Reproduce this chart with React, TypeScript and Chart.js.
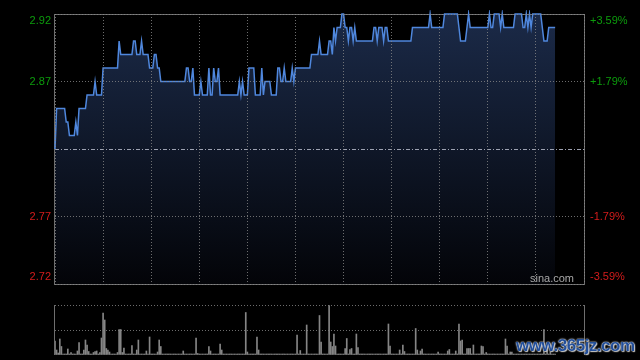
import React, { useEffect, useRef } from 'react';
import { Chart, registerables } from 'chart.js';

Chart.register(...registerables);

// ---- data ----
const basePrice = 2.82;
const priceMin = 2.72;
const priceMax = 2.92;
const priceTicks = [2.72, 2.77, 2.82, 2.87, 2.92];
const pctLabels = ['-3.59%', '-1.79%', '', '+1.79%', '+3.59%'];
const sessionMinutes = 330;
const timeTicks = [0, 30, 60, 90, 120, 150, 180, 210, 240, 270, 300, 330];
const volumeTicks = [0, 50, 100];
const volumeMax = 100;

// one price per minute of trading
const prices = [
  2.82, 2.85, 2.85, 2.85, 2.85, 2.85, 2.85, 2.84, 2.84, 2.83, 2.83, 2.83, 2.83, 2.84, 2.83, 2.85, 2.85, 2.85, 2.85, 2.85,
  2.86, 2.86, 2.86, 2.86, 2.86, 2.87, 2.86, 2.86, 2.86, 2.86, 2.88, 2.88, 2.88, 2.88, 2.88, 2.88, 2.88, 2.88, 2.88, 2.88,
  2.90, 2.89, 2.89, 2.89, 2.89, 2.89, 2.89, 2.89, 2.89, 2.90, 2.90, 2.89, 2.89, 2.89, 2.90, 2.89, 2.89, 2.89, 2.89, 2.88,
  2.88, 2.88, 2.89, 2.89, 2.88, 2.88, 2.87, 2.87, 2.87, 2.87, 2.87, 2.87, 2.87, 2.87, 2.87, 2.87, 2.87, 2.87, 2.87, 2.87,
  2.87, 2.87, 2.88, 2.88, 2.87, 2.87, 2.88, 2.86, 2.86, 2.86, 2.86, 2.87, 2.86, 2.86, 2.86, 2.86, 2.88, 2.86, 2.86, 2.88,
  2.87, 2.87, 2.88, 2.86, 2.86, 2.86, 2.86, 2.86, 2.86, 2.86, 2.86, 2.86, 2.86, 2.86, 2.86, 2.87, 2.86, 2.87, 2.86, 2.86,
  2.86, 2.88, 2.88, 2.88, 2.88, 2.86, 2.86, 2.86, 2.86, 2.88, 2.86, 2.87, 2.87, 2.87, 2.87, 2.86, 2.86, 2.86, 2.86, 2.88,
  2.88, 2.87, 2.87, 2.88, 2.87, 2.87, 2.87, 2.87, 2.88, 2.87, 2.88, 2.88, 2.88, 2.88, 2.88, 2.88, 2.88, 2.88, 2.88, 2.88,
  2.89, 2.89, 2.89, 2.89, 2.89, 2.90, 2.89, 2.89, 2.89, 2.89, 2.89, 2.90, 2.90, 2.89, 2.91, 2.90, 2.91, 2.91, 2.91, 2.92,
  2.92, 2.91, 2.91, 2.90, 2.91, 2.91, 2.90, 2.91, 2.90, 2.90, 2.90, 2.90, 2.90, 2.90, 2.90, 2.90, 2.90, 2.90, 2.90, 2.91,
  2.91, 2.90, 2.91, 2.91, 2.91, 2.90, 2.91, 2.91, 2.90, 2.90, 2.90, 2.90, 2.90, 2.90, 2.90, 2.90, 2.90, 2.90, 2.90, 2.90,
  2.90, 2.90, 2.90, 2.91, 2.91, 2.91, 2.91, 2.91, 2.91, 2.91, 2.91, 2.91, 2.91, 2.91, 2.92, 2.91, 2.91, 2.91, 2.91, 2.91,
  2.91, 2.91, 2.91, 2.92, 2.92, 2.92, 2.92, 2.92, 2.92, 2.92, 2.92, 2.92, 2.91, 2.90, 2.90, 2.90, 2.90, 2.91, 2.92, 2.91,
  2.91, 2.91, 2.91, 2.91, 2.91, 2.91, 2.91, 2.91, 2.91, 2.91, 2.91, 2.92, 2.91, 2.91, 2.92, 2.92, 2.92, 2.92, 2.91, 2.92,
  2.91, 2.91, 2.91, 2.91, 2.91, 2.91, 2.91, 2.92, 2.92, 2.92, 2.92, 2.92, 2.91, 2.91, 2.92, 2.91, 2.92, 2.91, 2.92, 2.92,
  2.92, 2.92, 2.92, 2.92, 2.91, 2.90, 2.90, 2.90, 2.91, 2.91, 2.91, 2.91, 2.91,
];

// one volume per minute (relative units, full panel = 100)
const volumes = [
  28, 10, 4, 32, 17, 2, 2, 2, 12, 2, 5, 2, 2, 2, 8, 25, 2, 2, 10, 30,
  20, 7, 2, 2, 5, 7, 8, 2, 5, 34, 84, 70, 13, 10, 6, 2, 2, 2, 2, 5,
  51, 51, 5, 14, 2, 2, 2, 2, 19, 2, 2, 10, 30, 2, 2, 2, 2, 8, 2, 36,
  2, 2, 2, 2, 6, 30, 17, 2, 2, 2, 2, 2, 2, 2, 2, 2, 2, 2, 2, 2,
  8, 2, 2, 2, 2, 2, 2, 2, 34, 3, 2, 2, 2, 2, 2, 2, 17, 8, 2, 2,
  2, 2, 2, 22, 10, 2, 2, 2, 2, 2, 2, 2, 2, 2, 2, 2, 2, 2, 2, 85,
  6, 2, 2, 2, 2, 2, 36, 10, 2, 2, 2, 2, 2, 2, 2, 2, 2, 2, 2, 2,
  2, 2, 2, 2, 2, 2, 2, 2, 2, 2, 2, 40, 2, 9, 2, 2, 2, 60, 2, 2,
  2, 2, 2, 2, 2, 79, 26, 2, 2, 2, 2, 99, 26, 17, 42, 18, 2, 2, 2, 2,
  2, 13, 33, 2, 11, 13, 2, 2, 42, 15, 2, 2, 2, 2, 2, 2, 2, 2, 2, 2,
  2, 2, 2, 2, 2, 2, 2, 2, 62, 18, 2, 2, 2, 2, 2, 10, 2, 20, 7, 2,
  2, 2, 2, 2, 2, 53, 10, 2, 8, 12, 2, 2, 2, 2, 2, 2, 2, 2, 2, 6,
  2, 2, 2, 2, 2, 8, 11, 2, 2, 2, 8, 2, 62, 28, 30, 2, 2, 13, 13, 13,
  2, 20, 2, 2, 2, 2, 18, 17, 2, 5, 2, 2, 2, 2, 2, 2, 2, 2, 2, 2,
  2, 32, 18, 2, 6, 6, 2, 2, 2, 2, 2, 2, 2, 2, 2, 2, 2, 2, 2, 2,
  2, 2, 2, 2, 2, 51, 2, 10, 2, 7, 2, 2, 2,
];

// ---- styles ----
const GREEN = '#0c9c0c';
const RED = '#d41c1c';
const GRID = 'rgba(135,135,135,0.8)';
const FRAME = '#6e6e6e';
const FONT = { family: "Arial, 'Liberation Sans', sans-serif", size: 11 };

export default function App() {
  const mainRef = useRef<HTMLCanvasElement>(null);
  const volRef = useRef<HTMLCanvasElement>(null);

  useEffect(() => {
    const isBase = (v: number) => Math.abs(v - basePrice) < 1e-6;
    const setPriceTicks = (s: any) => {
      s.ticks = priceTicks.map((v) => ({ value: v }));
    };
    const wrapEdge = (label: string, index: number) => {
      if (index === 0) return [label, ''];
      if (index === priceTicks.length - 1) return ['', label];
      return label;
    };

    const framePlugin = {
      id: 'frame',
      beforeDatasetsDraw(chart: any) {
        const { ctx, chartArea: a } = chart;
        ctx.save();
        ctx.strokeStyle = FRAME;
        ctx.lineWidth = 1;
        const x1 = Math.round(a.left) - 0.5;
        const x2 = Math.round(a.right) + 0.5;
        const y1 = Math.round(a.top) + 0.5;
        const y2 = Math.round(a.bottom) + 0.5;
        ctx.strokeRect(x1, y1, x2 - x1, y2 - y1);
        ctx.restore();
      },
      afterDatasetsDraw(chart: any) {
        const { ctx, chartArea: a, scales } = chart;
        const y = Math.round(scales.y.getPixelForValue(basePrice)) + 0.5;
        ctx.save();
        ctx.strokeStyle = 'rgba(165,170,185,0.95)';
        ctx.lineWidth = 1;
        ctx.setLineDash([4, 2, 1, 2]);
        ctx.beginPath();
        ctx.moveTo(a.left, y);
        ctx.lineTo(a.right, y);
        ctx.stroke();
        ctx.setLineDash([]);
        ctx.fillStyle = '#a8a8a8';
        ctx.font = "11px Arial, 'Liberation Sans', sans-serif";
        ctx.textAlign = 'right';
        ctx.textBaseline = 'alphabetic';
        ctx.fillText('sina.com', a.right - 10, a.bottom - 2);
        ctx.restore();
      },
    };

    const main = new Chart(mainRef.current as HTMLCanvasElement, {
      type: 'line',
      data: {
        datasets: [
          {
            data: prices.map((p, i) => ({ x: i, y: p })),
            borderColor: '#4f87dd',
            borderWidth: 1.5,
            pointRadius: 0,
            tension: 0,
            fill: 'start',
            clip: 4,
            backgroundColor: (c: any) => {
              const a = c.chart.chartArea;
              if (!a) return 'rgb(14,21,36)';
              const g = c.chart.ctx.createLinearGradient(0, a.top, 0, a.bottom);
              g.addColorStop(0, 'rgb(27,42,72)');
              g.addColorStop(1, 'rgb(3,4,8)');
              return g;
            },
          } as any,
        ],
      },
      options: {
        animation: false,
        responsive: false,
        maintainAspectRatio: false,
        events: [],
        layout: { padding: { top: 14, bottom: 6, left: 0, right: 0 } },
        plugins: { legend: { display: false }, tooltip: { enabled: false } },
        scales: {
          x: {
            type: 'linear',
            min: 0,
            max: sessionMinutes,
            afterBuildTicks: (s: any) => {
              s.ticks = timeTicks.map((v) => ({ value: v }));
            },
            ticks: { display: false },
            grid: { color: GRID, drawTicks: false, z: 1 },
            border: { display: false, dash: [1, 2] },
            afterFit: (s: any) => {
              s.height = 0;
              s.paddingLeft = 0;
              s.paddingRight = 0;
            },
          },
          y: {
            position: 'left',
            min: priceMin,
            max: priceMax,
            afterBuildTicks: setPriceTicks,
            ticks: {
              font: FONT,
              padding: 4,
              color: (c: any) => (c.tick && c.tick.value > basePrice ? GREEN : RED),
              callback: (v: any, i: number) => wrapEdge(isBase(Number(v)) ? '' : Number(v).toFixed(2), i),
            },
            grid: {
              color: (c: any) => (c.tick && isBase(c.tick.value) ? 'rgba(0,0,0,0)' : GRID),
              drawTicks: false,
              z: 1,
            },
            border: { display: false, dash: [1, 2] },
            afterFit: (s: any) => {
              s.width = 55;
              s.paddingTop = 0;
              s.paddingBottom = 0;
            },
          },
          y2: {
            position: 'right',
            min: priceMin,
            max: priceMax,
            afterBuildTicks: setPriceTicks,
            ticks: {
              font: FONT,
              padding: 6,
              color: (c: any) => (c.tick && c.tick.value > basePrice ? GREEN : RED),
              callback: (_v: any, i: number) => wrapEdge(pctLabels[i], i),
            },
            grid: { display: false, drawTicks: false },
            border: { display: false },
            afterFit: (s: any) => {
              s.width = 56;
              s.paddingTop = 0;
              s.paddingBottom = 0;
            },
          },
        },
      } as any,
      plugins: [framePlugin],
    });

    const volFrame = {
      id: 'volFrame',
      afterDatasetsDraw(chart: any) {
        const { ctx, chartArea: a } = chart;
        ctx.save();
        ctx.strokeStyle = FRAME;
        ctx.lineWidth = 1;
        const x1 = Math.round(a.left) - 0.5;
        const x2 = Math.round(a.right) + 0.5;
        ctx.beginPath();
        ctx.moveTo(x1, Math.round(a.top));
        ctx.lineTo(x1, Math.round(a.bottom));
        ctx.moveTo(x2, Math.round(a.top));
        ctx.lineTo(x2, Math.round(a.bottom));
        ctx.stroke();
        ctx.restore();
      },
    };

    const vol = new Chart(volRef.current as HTMLCanvasElement, {
      type: 'bar',
      data: {
        datasets: [
          {
            data: volumes.map((v, i) => ({ x: i, y: v })),
            backgroundColor: '#858585',
            borderWidth: 0,
            barThickness: 1,
          } as any,
        ],
      },
      options: {
        animation: false,
        responsive: false,
        maintainAspectRatio: false,
        events: [],
        layout: { padding: { top: 15, bottom: 5, left: 0, right: 56 } },
        plugins: { legend: { display: false }, tooltip: { enabled: false } },
        scales: {
          x: { type: 'linear', min: 0, max: sessionMinutes, display: false, offset: false },
          y: {
            min: 0,
            max: volumeMax,
            afterBuildTicks: (s: any) => {
              s.ticks = volumeTicks.map((v) => ({ value: v }));
            },
            ticks: { display: false },
            grid: {
              color: (c: any) => (c.tick && c.tick.value === 0 ? 'rgba(0,0,0,0)' : GRID),
              drawTicks: false,
            },
            border: { display: false, dash: [1, 2] },
            afterFit: (s: any) => {
              s.width = 55;
              s.paddingTop = 0;
              s.paddingBottom = 0;
            },
          },
        },
      } as any,
      plugins: [volFrame],
    });

    return () => {
      main.destroy();
      vol.destroy();
    };
  }, []);

  return (
    <div style={{ position: 'fixed', left: 0, top: 0, width: 640, height: 360, background: '#000', overflow: 'hidden' }}>
      <canvas ref={mainRef} width={640} height={290} style={{ position: 'absolute', left: 0, top: 0, width: 640, height: 290 }} />
      <canvas ref={volRef} width={640} height={70} style={{ position: 'absolute', left: 0, top: 290, width: 640, height: 70 }} />
      <div
        style={{
          position: 'absolute',
          left: 516,
          top: 337,
          font: "bold 17px 'Liberation Sans', Arial, sans-serif",
          lineHeight: '18px',
          letterSpacing: '-0.5px',
          color: '#234f9a',
          textShadow: '0 0 1px #fff, 0 0 2px #ddd, 1px 1px 1px #bbb',
          whiteSpace: 'nowrap',
        }}
      >
        www.365jz.com
      </div>
    </div>
  );
}
